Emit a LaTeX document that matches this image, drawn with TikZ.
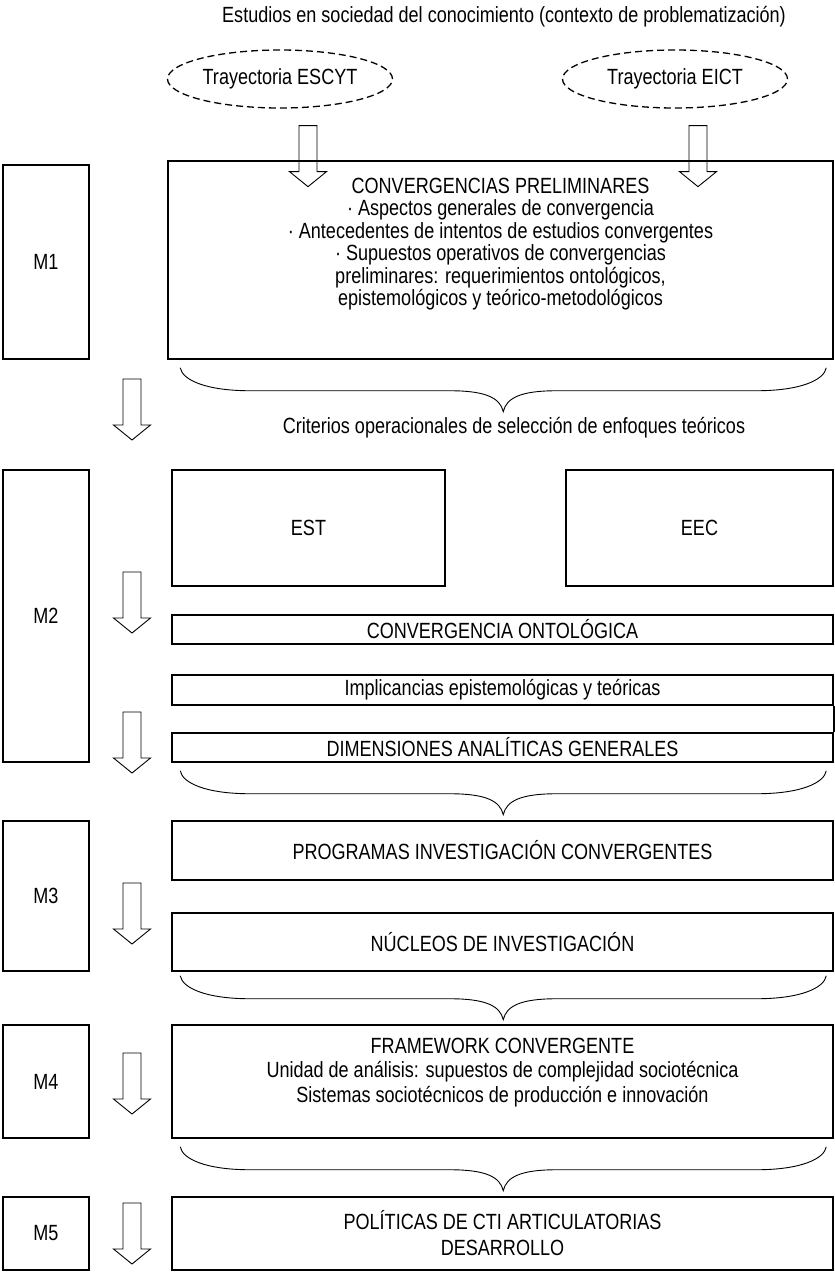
\documentclass[tikz,border=0pt]{standalone}
\usepackage{fontspec}
\setmainfont{Liberation Sans}[FakeStretch=0.82]
\usetikzlibrary{shapes.geometric}

\def \boxLine {1.5pt}
\def \thinLine {0.9pt}
\def \braceDepth {44}

\tikzset{
  box/.style={draw, line width=\boxLine, inner sep=0pt, align=center},
  trajectory/.style={draw, ellipse, dash pattern=on 7pt off 4pt, line width=1.3pt,
    minimum width=225pt, minimum height=58pt, inner sep=0pt},
  hollowArrow/.pic={
    \draw[line width=\thinLine] (-9,0) -- (-9,46) -- (-18.5,46) -- (0,61) -- (18.5,46) -- (9,46) -- (9,0) -- cycle;
  },
  curlyBrace/.pic={
    \draw[line width=\thinLine] (0,0) .. controls (2,12) and (25,23) .. (70,23) -- (270,23)
      .. controls (305,23) and (320,30) .. (323,\braceDepth)
      .. controls (326,30) and (341,23) .. (376,23) -- (576,23)
      .. controls (621,23) and (644,12) .. (646,0);
  }
}

\begin{document}
\begin{tikzpicture}[x=1pt, y=-1pt, font=\fontsize{22}{22.4}\selectfont]
   \useasboundingbox (0,0) rectangle (835,1272);

   \node (title) at (504,17) {Estudios en sociedad del conocimiento (contexto de problematización)};
   \node[trajectory] (escyt) at (280,79) {Trayectoria ESCYT};
   \node[trajectory] (eict) at (675,79) {Trayectoria EICT};

   \node[box, minimum width=86pt, minimum height=194pt] (m1) at (46,262) {M1};
   \node[box, minimum width=665pt, minimum height=198pt] (conv) at (500.5,260) {};
   \node[align=center] (convText) at (500.5,244) {CONVERGENCIAS PRELIMINARES\\
      · Aspectos generales de convergencia\\
      · Antecedentes de intentos de estudios convergentes\\
      · Supuestos operativos de convergencias\\
      preliminares: requerimientos ontológicos,\\
      epistemológicos y teórico-metodológicos};
   \pic at ([xshift=28pt,yshift=-17pt]escyt.south) {hollowArrow};
   \pic at ([xshift=23pt,yshift=-17pt]eict.south) {hollowArrow};
   \pic at ([xshift=13pt,yshift=-8pt]conv.south west) {curlyBrace};
   \node (criterios) at (514,428) {Criterios operacionales de selección de enfoques teóricos};
   \pic at (132,379) {hollowArrow};

   \node[box, minimum width=86pt, minimum height=292pt] (m2) at (46,616) {M2};
   \node[box, minimum width=273pt, minimum height=116pt] (est) at (308.5,528) {EST};
   \node[box, minimum width=267pt, minimum height=116pt] (eec) at (699.5,528) {EEC};
   \node[box, minimum width=661pt, minimum height=29pt] (onto) at (502.5,629.5) {CONVERGENCIA ONTOLÓGICA};
   \node[box, minimum width=661pt, minimum height=30pt] (impl) at (502.5,690) {Implicancias epistemológicas y teóricas};
   \node[box, minimum width=661pt, minimum height=29pt] (dims) at (502.5,747.5) {DIMENSIONES ANALÍTICAS GENERALES};
   \draw[line width=\boxLine] (impl.south east) -- (dims.north east);
   \pic at (132,572) {hollowArrow};
   \pic at (132,712) {hollowArrow};
   \pic at ([xshift=9pt,yshift=-8pt]dims.south west) {curlyBrace};

   \node[box, minimum width=86pt, minimum height=150pt] (m3) at (46,896) {M3};
   \node[box, minimum width=661pt, minimum height=59pt] (prog) at (502.5,850.5) {PROGRAMAS INVESTIGACIÓN CONVERGENTES};
   \node[box, minimum width=661pt, minimum height=58pt] (nucl) at (502.5,942) {NÚCLEOS DE INVESTIGACIÓN};
   \pic at (132,883) {hollowArrow};
   \pic at ([xshift=9pt,yshift=-4pt]nucl.south west) {curlyBrace};

   \node[box, minimum width=86pt, minimum height=113pt] (m4) at (46,1081.5) {M4};
   \node[box, minimum width=661pt, minimum height=113pt] (frame) at (502.5,1081.5) {};
   \node[align=center, font=\fontsize{22}{24.5}\selectfont] (frameText) at (502.5,1072.5) {FRAMEWORK CONVERGENTE\\
      Unidad de análisis: supuestos de complejidad sociotécnica\\
      Sistemas sociotécnicos de producción e innovación};
   \pic at (132,1053) {hollowArrow};
   \pic at ([xshift=9pt,yshift=-8pt]frame.south west) {curlyBrace};

   \node[box, minimum width=86pt, minimum height=73pt] (m5) at (46,1233.5) {M5};
   \node[box, minimum width=661pt, minimum height=73pt, font=\fontsize{22}{26}\selectfont] (pol) at (502.5,1233.5) {POLÍTICAS DE CTI ARTICULATORIAS\\ DESARROLLO};
   \pic at (132,1203) {hollowArrow};
\end{tikzpicture}
\end{document}
